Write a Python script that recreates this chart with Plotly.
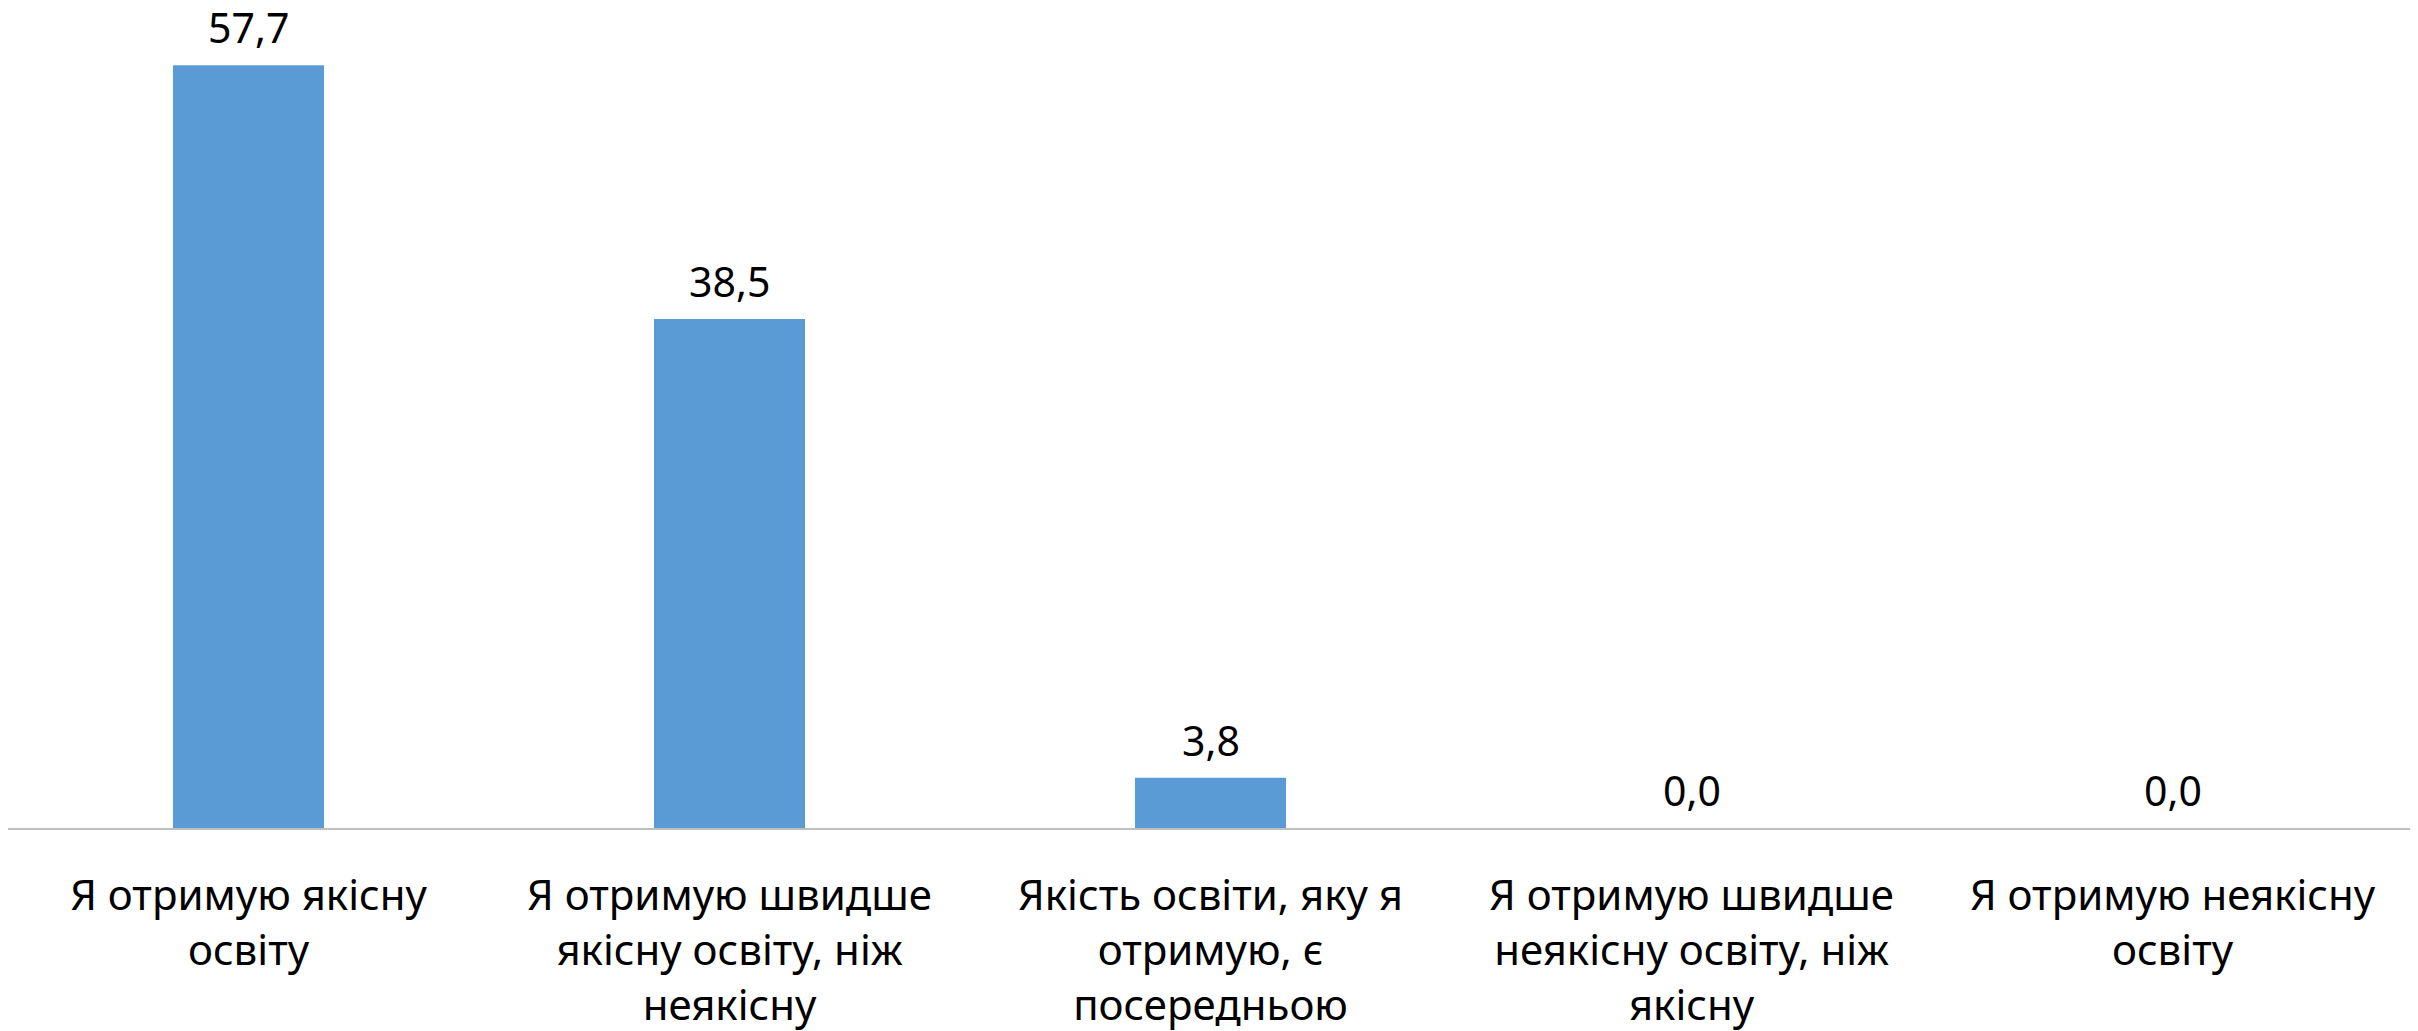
import plotly.graph_objects as go

categories = [
    "Я отримую якісну<br>освіту",
    "Я отримую швидше<br>якісну освіту, ніж<br>неякісну",
    "Якість освіти, яку я<br>отримую, є<br>посередньою",
    "Я отримую швидше<br>неякісну освіту, ніж<br>якісну",
    "Я отримую неякісну<br>освіту",
]
values = [57.7, 38.5, 3.8, 0.0, 0.0]
value_labels = ["57,7", "38,5", "3,8", "0,0", "0,0"]

FONT = "Noto Sans"

fig = go.Figure()
fig.add_trace(go.Bar(
    x=categories,
    y=values,
    marker=dict(color="#5B9BD5", line=dict(width=0)),
    width=0.314,
    hoverinfo="skip",
))

for c, v, t in zip(categories, values, value_labels):
    fig.add_annotation(
        x=c, y=v, xref="x", yref="y",
        text=t, showarrow=False,
        yanchor="bottom", yshift=8,
        font=dict(family=FONT, size=41, color="#000000"),
    )

fig.update_layout(
    width=2418, height=1023,
    margin=dict(l=0, r=13, t=0, b=203),
    paper_bgcolor="white", plot_bgcolor="white",
    showlegend=False,
    font=dict(family=FONT, size=42, color="#000000"),
    xaxis=dict(
        showline=True, linecolor="#BFBFBF", linewidth=2,
        showgrid=False, zeroline=False,
        ticks="", ticklabelstandoff=30,
        tickfont=dict(family=FONT, size=42, color="#000000"),
    ),
    yaxis=dict(
        range=[0, 62.03], visible=False,
        showgrid=False, zeroline=False,
    ),
)

fig.write_html("out.html")
